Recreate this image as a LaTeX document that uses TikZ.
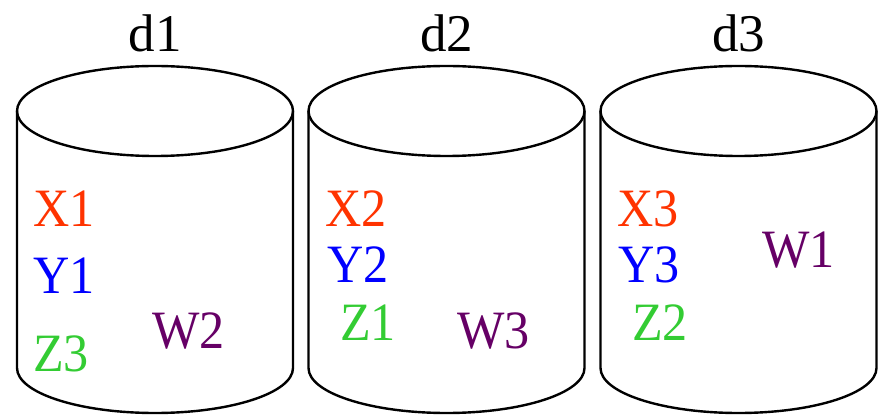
\documentclass[tikz,border=0pt]{standalone}
\usepackage{fontspec}
\setmainfont{Liberation Serif}
\definecolor{xred}{HTML}{FF3300}
\definecolor{yblue}{HTML}{0000FF}
\definecolor{zgreen}{HTML}{33CC33}
\definecolor{wpurple}{HTML}{660066}
\newcommand{\narrow}[1]{\scalebox{0.93}[1]{#1}}
\tikzset{
  cyl/.style={line width=2.4pt, draw=black},
  lbl/.style={inner sep=0pt, anchor=base west, font=\fontsize{54}{54}\selectfont},
  ttl/.style={inner sep=0pt, anchor=base, font=\fontsize{53}{53}\selectfont},
}
\newcommand{\drum}[1]{%
  \draw[cyl] (#1,111) ellipse [x radius=138, y radius=45];
  \draw[cyl] (#1-138,111) -- (#1-138,368) arc[start angle=180, end angle=360, x radius=138, y radius=-45] -- (#1+138,111);
}
\begin{document}
\begin{tikzpicture}[x=1pt,y=-1pt]
\useasboundingbox (0,0) rectangle (882,419);
\drum{155}
\drum{446.5}
\drum{738.5}
\node[ttl] (d1) at (155,52) {d1};
\node[ttl] (d2) at (446.5,52) {d2};
\node[ttl] (d3) at (738.5,52) {d3};
\node[lbl, text=xred] (x1) at (33,227) {\narrow{X1}};
\node[lbl, text=yblue] (y1) at (33,293) {\narrow{Y1}};
\node[lbl, text=zgreen] (z3) at (33,371) {\narrow{Z3}};
\node[lbl, text=wpurple] (w2) at (152,348) {\narrow{W2}};
\node[lbl, text=xred] (x2) at (325,227) {\narrow{X2}};
\node[lbl, text=yblue] (y2) at (327,283) {\narrow{Y2}};
\node[lbl, text=zgreen] (z1) at (340,340) {\narrow{Z1}};
\node[lbl, text=wpurple] (w3) at (457,348) {\narrow{W3}};
\node[lbl, text=xred] (x3) at (617,227) {\narrow{X3}};
\node[lbl, text=yblue] (y3) at (618,283) {\narrow{Y3}};
\node[lbl, text=zgreen] (z2) at (632,340) {\narrow{Z2}};
\node[lbl, text=wpurple] (w1) at (762,268) {\narrow{W1}};
\end{tikzpicture}
\end{document}
